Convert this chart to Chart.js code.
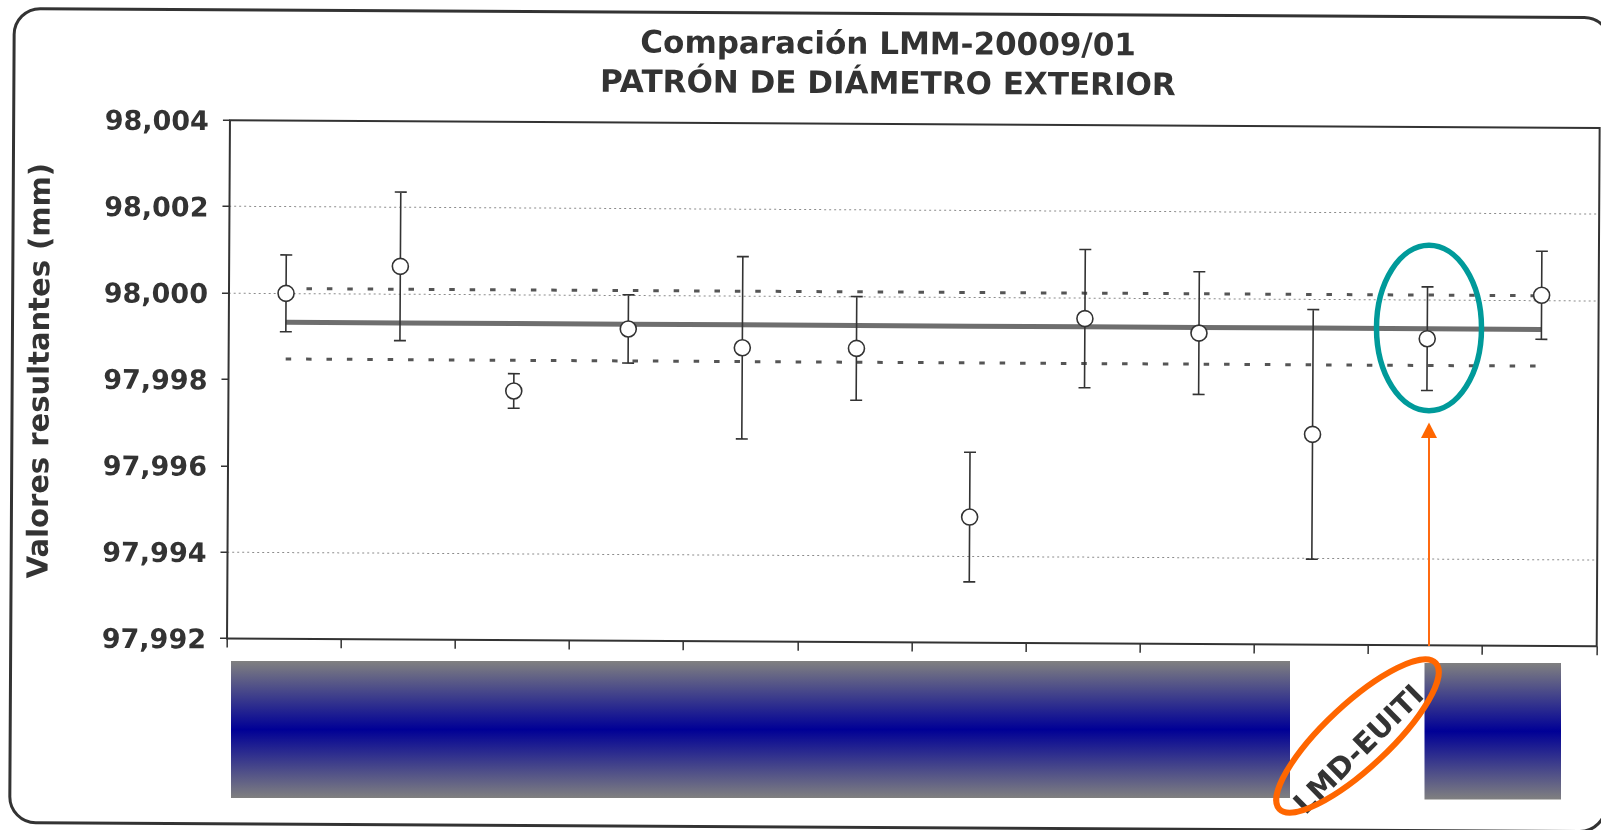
<!DOCTYPE html>
<html>
<head>
<meta charset="utf-8">
<script src="https://cdn.jsdelivr.net/npm/chart.js@4.4.1/dist/chart.umd.min.js"></script>
<style>
html,body{margin:0;padding:0;background:#fff;overflow:hidden}
canvas{display:block}
</style>
</head>
<body>
<canvas id="c" width="1601" height="830"></canvas>
<script>
// ---- data ----
const titleLines = ['Comparación LMM-20009/01', 'PATRÓN DE DIÁMETRO EXTERIOR'];
const yAxisTitle = 'Valores resultantes (mm)';
const categories = ['', '', '', '', '', '', '', '', '', '', 'LMD-EUITI', ''];
const results = [98.00000, 98.00064, 97.99777, 97.99922, 97.99880, 97.99880, 97.99491, 97.99952, 97.99920, 97.99687, 97.99910, 98.00012];
const uncertainties = [0.00089, 0.00172, 0.00040, 0.00079, 0.00211, 0.00120, 0.00150, 0.00160, 0.00142, 0.00289, 0.00120, 0.00102];
const referenceValue = 97.99933;
const upperLimit = 98.00011;
const lowerLimit = 97.99848;
const yTickValues = [97.992, 97.994, 97.996, 97.998, 98.000, 98.002, 98.004];
const griddedValues = [97.994, 98.000, 98.002];

// ---- styling / layout ----
const FONT = '"DejaVu Sans", Verdana, sans-serif';
const INK = '#333333';
const SKEW = 0.00568;            // slight rotation of the scanned page
const CX = 800.5, CY = 415;

function fmt(v) { return v.toFixed(3).replace('.', ','); }
function isGridded(v) { return griddedValues.some(g => Math.abs(g - v) < 1e-7); }

function drawErrorBars(chart) {
  const ctx = chart.ctx, xs = chart.scales.x, ys = chart.scales.y;
  ctx.save();
  ctx.strokeStyle = INK;
  ctx.lineWidth = 1.6;
  results.forEach((v, i) => {
    const x = xs.getPixelForValue(i);
    const yt = ys.getPixelForValue(v + uncertainties[i]);
    const yb = ys.getPixelForValue(v - uncertainties[i]);
    ctx.beginPath();
    ctx.moveTo(x, yt); ctx.lineTo(x, yb);
    ctx.moveTo(x - 6, yt); ctx.lineTo(x + 6, yt);
    ctx.moveTo(x - 6, yb); ctx.lineTo(x + 6, yb);
    ctx.stroke();
  });
  ctx.restore();
}

function drawOverlay(ctx) {
  // blue gradient masks
  const rects = [[231, 661, 1059, 137], [1424.5, 663, 136.5, 136.5]];
  rects.forEach(([x, y, w, h]) => {
    const g = ctx.createLinearGradient(0, y, 0, y + h);
    g.addColorStop(0, '#808080');
    g.addColorStop(0.5, '#000096');
    g.addColorStop(1, '#808080');
    ctx.fillStyle = g;
    ctx.fillRect(x, y, w, h);
  });
  // teal ellipse around highlighted result
  ctx.strokeStyle = '#009a9a';
  ctx.lineWidth = 5.5;
  ctx.beginPath();
  ctx.ellipse(1429, 328, 52.5, 82.7, 0, 0, Math.PI * 2);
  ctx.stroke();
  // orange ellipse around the label
  ctx.strokeStyle = '#ff6600';
  ctx.lineWidth = 6;
  ctx.beginPath();
  ctx.ellipse(1357.5, 736, 107, 32, -43 * Math.PI / 180, 0, Math.PI * 2);
  ctx.stroke();
  // arrow
  ctx.strokeStyle = '#ff6a10';
  ctx.lineWidth = 2;
  ctx.beginPath();
  ctx.moveTo(1429, 646); ctx.lineTo(1429, 436);
  ctx.stroke();
  ctx.fillStyle = '#ff6600';
  ctx.beginPath();
  ctx.moveTo(1429, 422.5); ctx.lineTo(1421, 438); ctx.lineTo(1437, 438);
  ctx.closePath();
  ctx.fill();
}

const scanPlugin = {
  id: 'scan',
  beforeDraw(chart) {
    const ctx = chart.ctx;
    ctx.save();
    ctx.fillStyle = '#ffffff';
    ctx.fillRect(0, 0, chart.width, chart.height);
    ctx.translate(CX, CY); ctx.rotate(SKEW); ctx.translate(-CX, -CY);
    // page frame
    ctx.strokeStyle = INK;
    ctx.lineWidth = 3;
    ctx.beginPath();
    ctx.roundRect(12, 13, 1596, 814, 26);
    ctx.stroke();
    // titles
    ctx.fillStyle = INK;
    ctx.textAlign = 'center';
    ctx.textBaseline = 'alphabetic';
    ctx.font = 'bold 31px ' + FONT;
    ctx.fillText(titleLines[0], 886, 53.5);
    ctx.fillText(titleLines[1], 886, 93);
    ctx.save();
    ctx.translate(48.5, 375);
    ctx.rotate(-Math.PI / 2);
    ctx.font = 'bold 29px ' + FONT;
    ctx.fillText(yAxisTitle, 0, 0);
    ctx.restore();
  },
  beforeDatasetDraw(chart, args) {
    if (args.index === 0) drawErrorBars(chart);
  },
  afterDatasetsDraw(chart) {
    const {ctx, chartArea: a} = chart;
    ctx.save();
    ctx.strokeStyle = INK;
    ctx.lineWidth = 2;
    ctx.strokeRect(a.left, a.top, a.right - a.left, a.bottom - a.top);
    ctx.restore();
  },
  afterDraw(chart) {
    chart.ctx.restore();
    drawOverlay(chart.ctx);
  }
};

Chart.defaults.font.family = FONT;

new Chart(document.getElementById('c'), {
  type: 'line',
  data: {
    labels: categories,
    datasets: [
      {
        label: 'Resultados',
        data: results,
        showLine: false,
        pointRadius: 8,
        pointBackgroundColor: '#ffffff',
        pointBorderColor: INK,
        pointBorderWidth: 1.6,
        order: 0
      },
      {
        label: 'Valor de referencia',
        data: categories.map(() => referenceValue),
        borderColor: '#6e6e6e',
        borderWidth: 5,
        pointRadius: 0,
        order: 1
      },
      {
        label: 'Límite superior',
        data: categories.map(() => upperLimit),
        borderColor: '#555555',
        borderWidth: 3,
        borderDash: [5.5, 14.9],
        pointRadius: 0,
        order: 2
      },
      {
        label: 'Límite inferior',
        data: categories.map(() => lowerLimit),
        borderColor: '#555555',
        borderWidth: 3,
        borderDash: [5.5, 14.9],
        pointRadius: 0,
        order: 2
      }
    ]
  },
  options: {
    responsive: false,
    animation: false,
    layout: { autoPadding: false, padding: { top: 123.5, right: 3, left: 0, bottom: 0 } },
    plugins: { legend: { display: false }, tooltip: { enabled: false }, title: { display: false } },
    scales: {
      x: {
        type: 'category',
        offset: true,
        grid: { offset: true, drawOnChartArea: false, drawTicks: true, tickLength: 9, tickColor: INK, tickWidth: 1.5 },
        border: { display: false },
        ticks: {
          autoSkip: false, minRotation: 45, maxRotation: 45, padding: 25, labelOffset: -5,
          color: INK, font: { size: 29, weight: 'bold' }
        },
        afterFit(s) { s.height = 188.2; s.paddingLeft = 0; s.paddingRight = 0; }
      },
      y: {
        min: yTickValues[0],
        max: yTickValues[yTickValues.length - 1],
        afterBuildTicks(s) { s.ticks = yTickValues.map(v => ({ value: v })); },
        ticks: { padding: 14, labelOffset: 3, color: INK, font: { size: 27, weight: 'bold' }, callback: v => fmt(v) },
        grid: {
          color: c => (c.tick && isGridded(c.tick.value)) ? '#8c8c8c' : 'rgba(0,0,0,0)',
          lineWidth: 1, tickLength: 7, tickColor: INK, tickWidth: 1.5
        },
        border: { display: false, dash: [2, 3] },
        afterFit(s) { s.width = 228.3; s.paddingTop = 0; s.paddingBottom = 0; }
      }
    }
  },
  plugins: [scanPlugin]
});
</script>
</body>
</html>
